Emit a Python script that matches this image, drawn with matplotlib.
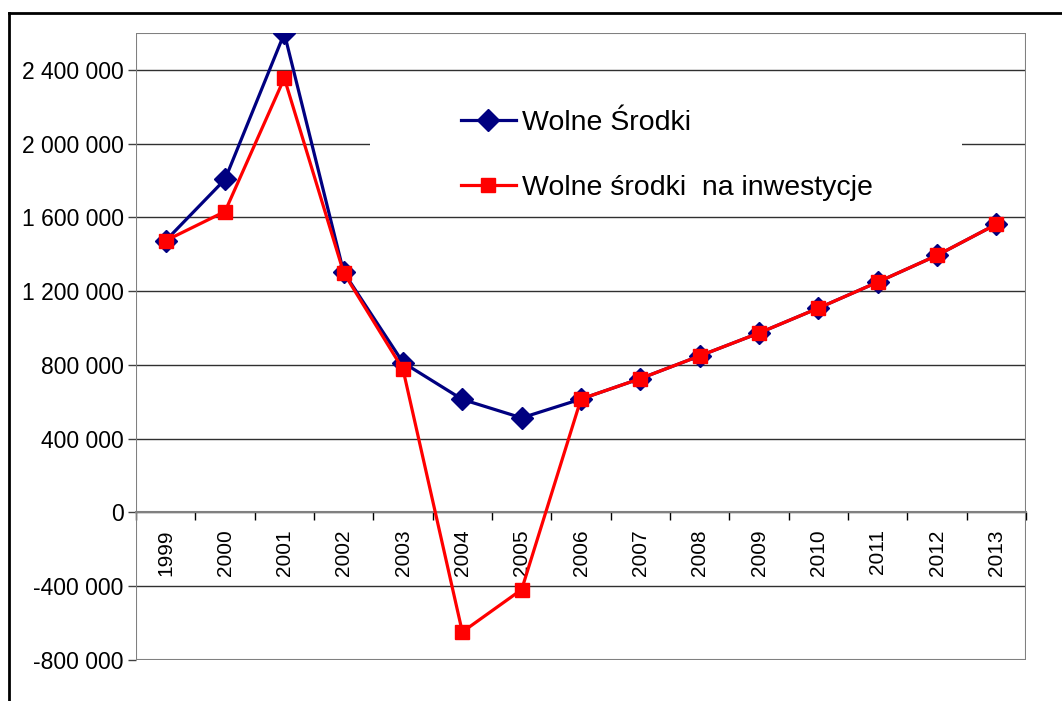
import matplotlib
import matplotlib.pyplot as plt
import matplotlib.ticker as ticker
from matplotlib.lines import Line2D
from matplotlib.patches import Rectangle
matplotlib.use('Agg')

plt.rcParams['font.family'] = ['Liberation Sans', 'DejaVu Sans']

years = ["1999", "2000", "2001", "2002", "2003", "2004", "2005", "2006",
         "2007", "2008", "2009", "2010", "2011", "2012", "2013"]
wolne_srodki = [1474000, 1806000, 2598000, 1303000, 813000, 613000, 513000, 615000,
                726000, 849000, 973000, 1108000, 1249000, 1394000, 1563000]
wolne_inwest = [1474000, 1632000, 2355000, 1300000, 776000, -648000, -418000, 615000,
                726000, 849000, 973000, 1108000, 1249000, 1394000, 1563000]
y_ticks = [-800000, -400000, 0, 400000, 800000, 1200000, 1600000, 2000000, 2400000]

fig = plt.figure(figsize=(10.62, 7.01), dpi=100)
ax = fig.add_axes([136 / 1062, 1 - 660 / 701, 890 / 1062, 627 / 701])

x = list(range(len(years)))
ax.plot(x, wolne_srodki, color="#000080", linewidth=2.3, marker="D", markersize=11,
        label="Wolne Środki", zorder=3)
ax.plot(x, wolne_inwest, color="#FF0000", linewidth=2.3, marker="s", markersize=10,
        label="Wolne środki  na inwestycje", zorder=4)

ax.set_xlim(-0.5, len(years) - 0.5)
ax.set_ylim(-800000, 2600000)

# y axis
ax.set_yticks(y_ticks)
ax.yaxis.set_major_formatter(ticker.FuncFormatter(lambda v, _: f"{int(v):,}".replace(",", " ")))
ax.tick_params(axis="y", direction="out", length=6, width=1, colors="#404040",
               labelcolor="black", labelsize=16.5, pad=3)
ax.set_axisbelow(True)
ax.grid(axis="y", color="#303030", linewidth=1)

# x axis at zero
ax.spines["bottom"].set_position(("data", 0))
ax.spines["bottom"].set_color("#808080")
ax.spines["bottom"].set_linewidth(1.5)
ax.spines["bottom"].set_zorder(2)
for s in ["top", "right", "left"]:
    ax.spines[s].set_visible(False)
ax.add_patch(Rectangle((0, 0), 1, 1, transform=ax.transAxes, fill=False,
                       edgecolor="#808080", linewidth=1.5, zorder=2.5))
ax.set_xticks([i - 0.5 for i in range(len(years) + 1)])
ax.set_xticklabels([])
ax.set_xticks(x, minor=True)
ax.set_xticklabels(years, minor=True, rotation=90)
ax.tick_params(axis="x", which="major", direction="out", length=6, width=1, color="black")
ax.tick_params(axis="x", which="minor", length=0, labelsize=15, pad=12)

# white legend background covering gridline
ax.add_patch(Rectangle((0.263, 0.74), 0.665, 0.18, transform=ax.transAxes,
                       facecolor="white", edgecolor="none", zorder=1))
leg = ax.legend(loc="upper left", bbox_to_anchor=(0.365, 0.877), frameon=False,
                fontsize=20.5, handlelength=1.93, handletextpad=0.22, labelspacing=1.35,
                borderpad=0, borderaxespad=0)

# outer chart frame (only top and left visible)
fig.add_artist(Line2D([9 / 1062, 1], [1 - 13 / 701, 1 - 13 / 701], color="black", linewidth=2))
fig.add_artist(Line2D([9 / 1062, 9 / 1062], [0, 1 - 13 / 701], color="black", linewidth=2))

plt.savefig("out.png", dpi=100)
